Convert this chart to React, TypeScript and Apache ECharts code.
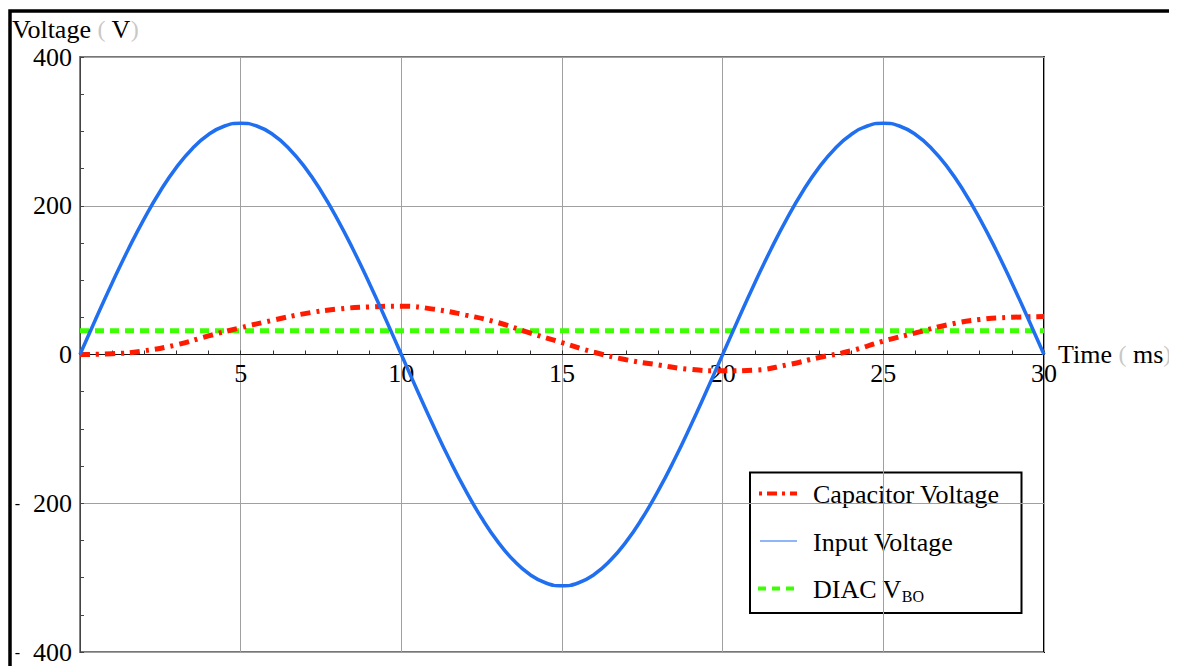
import { useEffect, useRef } from "react";
import * as echarts from "echarts";

const inputTimes = [
  0, 0.5, 1, 1.5, 2, 2.5, 3, 3.5, 4, 4.5, 5, 5.5, 6, 6.5, 7, 7.5, 8, 8.5, 9, 9.5,
  10, 10.5, 11, 11.5, 12, 12.5, 13, 13.5, 14, 14.5, 15, 15.5, 16, 16.5, 17, 17.5, 18, 18.5, 19, 19.5,
  20, 20.5, 21, 21.5, 22, 22.5, 23, 23.5, 24, 24.5, 25, 25.5, 26, 26.5, 27, 27.5, 28, 28.5, 29, 29.5, 30,
];
const inputValues = [
  0, 48.7, 96.1, 141.2, 182.8, 219.9, 251.6, 277.1, 295.8, 307.2, 311, 307.2, 295.8, 277.1, 251.6, 219.9, 182.8, 141.2, 96.1, 48.7,
  0, -48.7, -96.1, -141.2, -182.8, -219.9, -251.6, -277.1, -295.8, -307.2, -311, -307.2, -295.8, -277.1, -251.6, -219.9, -182.8, -141.2, -96.1, -48.7,
  0, 48.7, 96.1, 141.2, 182.8, 219.9, 251.6, 277.1, 295.8, 307.2, 311, 307.2, 295.8, 277.1, 251.6, 219.9, 182.8, 141.2, 96.1, 48.7, 0,
];

// Capacitor voltage, sampled every 1 ms
const capTimes = [
  0, 1, 2, 3, 4, 5, 6, 7, 8, 9, 10, 11, 12, 13, 14, 15, 16, 17, 18, 19, 20,
  21, 22, 23, 24, 25, 26, 27, 28, 29, 30,
];
const capValues = [
  0, 1, 5, 13, 25, 36, 46, 55, 61, 64, 65, 61, 53, 43, 29, 16, 3, -7, -14, -20, -22,
  -21, -14, -4, 5, 18, 29, 40, 47, 50, 51,
];

// DIAC breakover voltage
const diacTimes = [0, 30];
const diacValues = [32, 32];

const xTicks = [0, 30, 5];
const yRange = [-400, 400, 200];

const FONT = "Liberation Serif";
const BLUE = "#1f6ff0";
const RED = "#ff1a00";
const GREEN = "#3cff00";

const GRID_TOP = 49;
const GRID_BOTTOM = 14;
const CHART_H = 658;

export default function App() {
  const ref = useRef<HTMLDivElement>(null);
  useEffect(() => {
    if (!ref.current) return;
    const chart = echarts.init(ref.current, null, { renderer: "svg" });
    const zip = (t: number[], v: number[]) => t.map((x, i) => [x, v[i]]);
    // place the time axis where the voltage axis crosses zero
    const plotH = CHART_H - GRID_TOP - GRID_BOTTOM;
    const zeroOffset = -plotH * (0 - yRange[0]) / (yRange[1] - yRange[0]);
    chart.setOption({
      animation: false,
      textStyle: { fontFamily: FONT },
      grid: {
        left: 72,
        right: 133,
        top: GRID_TOP,
        bottom: GRID_BOTTOM,
        show: true,
        borderColor: "#777",
        borderWidth: 1.8,
        outerBoundsMode: "none",
        containLabel: false,
      },
      xAxis: {
        type: "value",
        position: "bottom",
        offset: zeroOffset,
        min: xTicks[0],
        max: xTicks[1],
        interval: xTicks[2],
        axisLine: { onZero: false, lineStyle: { color: "#111", width: 1.2 } },
        axisTick: { show: true, inside: true, length: 4, lineStyle: { color: "#333" } },
        minorTick: { show: true, splitNumber: 5, length: 4, lineStyle: { color: "#333", width: 1 } },
        splitLine: { show: true, lineStyle: { color: "#a0a0a0", width: 1 } },
        axisLabel: {
          margin: 6,
          fontFamily: FONT,
          fontSize: 26,
          color: "#000",
          formatter: (v: number) => (v === 0 ? "" : String(v)),
        },
      },
      yAxis: {
        type: "value",
        min: yRange[0],
        max: yRange[1],
        interval: yRange[2],
        axisLine: { show: true, onZero: false, lineStyle: { color: "#444", width: 1 } },
        axisTick: { show: true, inside: true, length: 4, lineStyle: { color: "#444" } },
        minorTick: { show: true, splitNumber: 4, length: 4, lineStyle: { color: "#444", width: 1 } },
        splitLine: { show: true, lineStyle: { color: "#a0a0a0", width: 1 } },
        axisLabel: {
          margin: 8,
          fontFamily: FONT,
          fontSize: 26,
          color: "#000",
          formatter: (v: number) => (v < 0 ? `{m|-}{n|  ${-v}}` : `{n|${v}}`),
          rich: {
            m: { fontFamily: FONT, fontSize: 16, color: "#000" },
            n: { fontFamily: FONT, fontSize: 26, color: "#000" },
          },
        },
      },
      series: [
        {
          name: "DIAC VBO",
          type: "line",
          data: zip(diacTimes, diacValues),
          showSymbol: false,
          lineStyle: { color: GREEN, width: 5, type: [9, 6] },
          z: 2,
        },
        {
          name: "Capacitor Voltage",
          type: "line",
          data: zip(capTimes, capValues),
          smooth: true,
          showSymbol: false,
          lineStyle: { color: RED, width: 5, type: [10, 6, 3, 6] },
          z: 3,
        },
        {
          name: "Input Voltage",
          type: "line",
          data: zip(inputTimes, inputValues),
          smooth: true,
          showSymbol: false,
          lineStyle: { color: BLUE, width: 3.5 },
          z: 4,
        },
      ],
      graphic: [
        {
          type: "polyline",
          shape: { points: [[2, 660], [2, 3], [1166.5, 3], [1166.5, 660]] },
          style: { stroke: "#000", lineWidth: 3.5, fill: null },
          silent: true,
        },
        {
          type: "line",
          shape: { x1: 1036, y1: 48.5, x2: 1036, y2: 645 },
          style: { stroke: "#000", lineWidth: 2 },
          silent: true,
        },
        {
          type: "text",
          x: 4,
          y: 21,
          style: {
            text: "{a|Voltage }{p|(}{a| V}{p|)}",
            verticalAlign: "middle",
            rich: {
              a: { fontFamily: FONT, fontSize: 26, fill: "#000" },
              p: { fontFamily: FONT, fontSize: 24, fill: "#c8c8c8" },
            },
          },
        },
        {
          type: "text",
          x: 1050,
          y: 346,
          style: {
            text: "{a|Time }{p|(}{a| ms}{p|)}",
            verticalAlign: "middle",
            rich: {
              a: { fontFamily: FONT, fontSize: 26, fill: "#000" },
              p: { fontFamily: FONT, fontSize: 24, fill: "#c8c8c8" },
            },
          },
        },
        {
          type: "group",
          children: [
            {
              type: "rect",
              shape: { x: 742, y: 464.5, width: 271.5, height: 140.5 },
              style: { fill: "#fff", stroke: "#000", lineWidth: 2 },
            },
            {
              type: "line",
              shape: { x1: 751, y1: 485.5, x2: 789, y2: 485.5 },
              style: { stroke: RED, lineWidth: 4, lineDash: [3, 5, 10, 5] },
            },
            {
              type: "line",
              shape: { x1: 752, y1: 533, x2: 789, y2: 533 },
              style: { stroke: BLUE, lineWidth: 1 },
            },
            {
              type: "line",
              shape: { x1: 750, y1: 580.5, x2: 790, y2: 580.5 },
              style: { stroke: GREEN, lineWidth: 4, lineDash: [8, 6] },
            },
            {
              type: "text",
              x: 805,
              y: 486,
              style: { text: "Capacitor Voltage", fontFamily: FONT, fontSize: 26, fill: "#000", verticalAlign: "middle" },
            },
            {
              type: "text",
              x: 805,
              y: 534,
              style: { text: "Input Voltage", fontFamily: FONT, fontSize: 26, fill: "#000", verticalAlign: "middle" },
            },
            {
              type: "text",
              x: 805,
              y: 581,
              style: {
                text: "{t|DIAC V}{s|BO}",
                verticalAlign: "middle",
                rich: {
                  t: { fontFamily: FONT, fontSize: 26, fill: "#000", lineHeight: 30, verticalAlign: "middle" },
                  s: { fontFamily: FONT, fontSize: 16, fill: "#000", lineHeight: 16, verticalAlign: "bottom" },
                },
              },
            },
          ],
        },
      ],
    });
    return () => chart.dispose();
  }, []);
  return <div ref={ref} style={{ width: 1169, height: 658 }} />;
}
